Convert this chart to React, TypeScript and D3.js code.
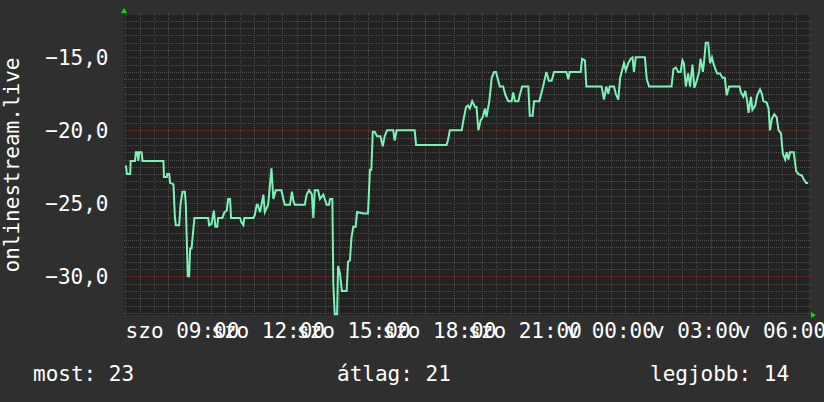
import React from 'react';
import * as d3 from 'd3';

const WIDTH = 824;
const HEIGHT = 402;

const seriesName = 'onlinestream.live';
const dayNames = ['v', 'h', 'k', 'sze', 'cs', 'p', 'szo'];
const yLabelTicks = [-30, -25, -20, -15];
const legendLabels = ['most', 'átlag', 'legjobb'];
const legendValues = [23, 21, 14];

// szombat 06:57 -> vasárnap 06:57
const startTime = new Date(2024, 2, 9, 6, 57);
const endTime = new Date(2024, 2, 10, 6, 57);

const times = [
  '07:01', '07:03', '07:10', '07:11', '07:20', '07:22', '07:25', '07:27', '07:29', '07:34',
  '07:36', '08:20', '08:21', '08:27', '08:28', '08:32', '08:34', '08:41', '08:44', '08:46',
  '08:53', '08:56', '09:00', '09:05', '09:07', '09:11', '09:14', '09:16', '09:19', '09:21',
  '09:25', '09:54', '09:56', '10:01', '10:06', '10:09', '10:13', '10:15', '10:24', '10:28',
  '10:33', '10:36', '10:40', '10:42', '11:01', '11:04', '11:08', '11:10', '11:29', '11:32',
  '11:36', '11:38', '11:43', '11:50', '11:53', '12:00', '12:07', '12:11', '12:16', '12:28',
  '12:32', '12:35', '12:46', '12:50', '12:53', '12:56', '13:17', '13:21', '13:26', '13:32',
  '13:35', '13:38', '13:45', '13:49', '13:56', '14:03', '14:08', '14:10', '14:15', '14:17',
  '14:20', '14:25', '14:27', '14:31', '14:35', '14:45', '14:48', '14:52', '14:55', '14:59',
  '15:04', '15:07', '15:20', '15:30', '15:34', '15:37', '15:40', '15:44', '15:49', '15:56',
  '16:01', '16:05', '16:10', '16:23', '16:26', '16:30', '17:08', '17:11', '18:15', '18:18',
  '18:22', '18:47', '18:50', '18:56', '19:00', '19:04', '19:09', '19:15', '19:18', '19:22',
  '19:27', '19:31', '19:36', '19:39', '19:45', '19:50', '19:55', '19:59', '20:03', '20:07',
  '20:14', '20:19', '20:25', '20:32', '20:35', '20:39', '20:46', '20:49', '20:54', '21:07',
  '21:10', '21:16', '21:19', '21:30', '21:35', '21:40', '21:45', '21:50', '21:56', '22:01',
  '22:27', '22:31', '22:34', '22:57', '23:00', '23:06', '23:09', '23:41', '23:46', '23:51',
  '23:55', '23:58', '00:07', '00:11', '00:16', '00:20', '00:24', '00:28', '00:32', '00:37',
  '00:42', '00:46', '00:49', '00:53', '01:12', '01:16', '01:21', '02:08', '02:12', '02:17',
  '02:22', '02:27', '02:31', '02:34', '02:38', '02:43', '02:47', '02:52', '02:56', '03:01',
  '03:06', '03:09', '03:14', '03:17', '03:20', '03:25', '03:29', '03:33', '03:36', '03:40',
  '03:44', '03:50', '03:55', '04:00', '04:04', '04:09', '04:31', '04:34', '04:39', '04:43',
  '04:47', '04:50', '04:55', '04:58', '05:04', '05:08', '05:14', '05:18', '05:21', '05:28',
  '05:32', '05:35', '05:39', '05:44', '05:49', '05:53', '05:58', '06:02', '06:07', '06:10',
  '06:14', '06:17', '06:25', '06:30', '06:35', '06:42', '06:45', '06:51', '06:55',
];

const values = [
  -22.4, -23.0, -23.0, -22.1, -22.1, -21.5, -21.5, -22.1, -21.5, -21.5,
  -22.1, -22.1, -23.2, -23.2, -23.0, -23.0, -23.6, -23.7, -26.0, -26.5,
  -26.5, -25.0, -24.2, -24.2, -25.1, -30.0, -30.0, -28.1, -28.1, -27.4,
  -26.0, -26.0, -26.5, -26.4, -25.5, -26.6, -26.6, -26.0, -26.0, -25.6,
  -25.5, -24.7, -24.7, -26.0, -26.0, -26.3, -26.5, -26.0, -26.0, -25.8,
  -25.1, -25.1, -25.6, -24.4, -25.6, -25.1, -22.6, -24.7, -24.1, -24.1,
  -24.7, -25.1, -25.1, -24.2, -24.8, -25.1, -25.1, -24.4, -24.1, -24.4,
  -26.0, -24.1, -24.1, -24.7, -24.4, -25.1, -25.1, -24.7, -24.7, -30.5,
  -32.6, -32.6, -29.3, -29.8, -31.0, -31.0, -29.0, -28.9, -27.4, -26.6,
  -26.6, -25.6, -25.7, -25.7, -22.7, -22.7, -20.1, -20.1, -20.4, -20.4,
  -21.1, -20.4, -20.0, -20.0, -20.7, -20.0, -20.0, -21.0, -21.0, -20.7,
  -20.0, -20.0, -19.4, -18.4, -18.3, -18.5, -18.0, -18.4, -18.4, -20.0,
  -19.3, -19.1, -18.5, -19.1, -18.0, -16.4, -16.0, -16.0, -16.5, -17.0,
  -17.0, -17.6, -18.0, -18.0, -17.4, -18.0, -18.0, -17.6, -17.0, -17.0,
  -19.0, -19.0, -18.0, -18.0, -17.4, -16.7, -16.0, -16.6, -16.6, -16.0,
  -16.0, -16.5, -16.0, -16.0, -15.1, -15.2, -17.0, -17.0, -17.9, -17.0,
  -17.5, -17.0, -17.0, -17.5, -17.9, -16.4, -15.9, -15.4, -15.9, -15.4,
  -15.1, -15.0, -16.0, -15.0, -15.0, -16.5, -17.0, -17.0, -15.8, -15.7,
  -16.0, -16.0, -15.2, -15.4, -17.0, -16.1, -17.0, -15.5, -17.1, -16.6,
  -16.0, -15.1, -16.0, -15.1, -14.0, -14.0, -15.4, -15.0, -15.4, -15.8,
  -16.1, -16.1, -16.4, -16.4, -17.6, -17.0, -17.0, -17.4, -17.7, -17.3,
  -18.0, -18.8, -17.7, -18.6, -18.3, -17.6, -17.2, -17.5, -18.0, -18.1,
  -18.5, -20.0, -19.2, -18.9, -19.1, -20.0, -20.2, -21.6, -22.0, -21.5,
  -22.0, -21.5, -21.5, -22.8, -23.0, -23.1, -23.3, -23.6, -23.6,
];

// HH:MM -> Date, átfordul éjfélnél
const parseTimes = (list: string[]) => {
  let day = 0;
  let prev = -1;
  return list.map((t) => {
    const [h, m] = t.split(':').map(Number);
    const mins = h * 60 + m;
    if (mins < prev) day += 1;
    prev = mins;
    return new Date(2024, 2, 9 + day, h, m);
  });
};

const huLocale = d3.formatLocale({
  decimal: ',',
  thousands: ' ',
  grouping: [3],
  currency: ['', ' Ft'],
});
const fmtY = huLocale.format('.1f');
const fmtHM = d3.timeFormat('%H:%M');

const App: React.FC = () => {
  const plot = { left: 124, right: 809, top: 15, bottom: 315 };
  const font = "'DejaVu Sans Mono', monospace";

  const x = d3.scaleTime().domain([startTime, endTime]).range([plot.left, plot.right]);
  const y = d3.scaleLinear().domain([-32.65, -12.1]).range([plot.bottom, plot.top]);

  const dates = parseTimes(times);
  const points: [Date, number][] = dates
    .slice(0, Math.min(dates.length, values.length))
    .map((d, i) => [d, values[i]]);

  const line = d3.line<[Date, number]>()
    .x((d) => x(d[0]))
    .y((d) => y(d[1]));

  const yGrid = d3.range(-65, -24).map((k) => k / 2);
  const yMinor = yGrid.filter((v) => v % 5 !== 0);
  const yMajor = yGrid.filter((v) => v % 5 === 0);

  const xMinor = d3.timeMinute.every(30)!.range(startTime, endTime)
    .filter((d) => d.getMinutes() !== 0);
  const xMajor = d3.timeHour.range(startTime, endTime);
  const xLabels = d3.timeHour.every(3)!.range(startTime, endTime);

  const minorColor = '#4f4f4f';
  const majorColor = '#6a3434';
  const ext = 2;

  return (
    <div style={{ position: 'absolute', left: 0, top: 0 }}>
      <svg width={WIDTH} height={HEIGHT} style={{ display: 'block' }}>
        <rect x={0} y={0} width={WIDTH} height={HEIGHT} fill="#2f2f2f" />
        <rect
          x={plot.left}
          y={plot.top}
          width={plot.right - plot.left}
          height={plot.bottom - plot.top}
          fill="#222222"
        />

        <g shapeRendering="crispEdges" strokeWidth={1} strokeDasharray="1 1">
          {yMinor.map((v) => (
            <line key={'ym' + v} x1={plot.left} x2={plot.right + ext}
              y1={Math.round(y(v)) + 0.5} y2={Math.round(y(v)) + 0.5} stroke={minorColor} />
          ))}
          {xMinor.map((d) => (
            <line key={'xm' + d.getTime()} y1={plot.top - ext} y2={plot.bottom + ext}
              x1={Math.round(x(d)) + 0.5} x2={Math.round(x(d)) + 0.5} stroke={minorColor} />
          ))}
          {yMajor.map((v) => (
            <line key={'yM' + v} x1={plot.left} x2={plot.right + ext}
              y1={Math.round(y(v)) + 0.5} y2={Math.round(y(v)) + 0.5} stroke={majorColor} />
          ))}
          {xMajor.map((d) => (
            <line key={'xM' + d.getTime()} y1={plot.top - ext} y2={plot.bottom + ext}
              x1={Math.round(x(d)) + 0.5} x2={Math.round(x(d)) + 0.5} stroke={majorColor} />
          ))}
        </g>

        <path d={line(points) ?? ''} fill="none" stroke="#7df2b6" strokeWidth={2}
          strokeLinejoin="miter" />

        {/* tengely nyilak */}
        <path d={`M${plot.left - 3},${plot.top - 2} L${plot.left + 3},${plot.top - 2} L${plot.left},${plot.top - 7} Z`}
          fill="#00dd00" />
        <path d={`M${plot.right + 2},${plot.bottom - 3} L${plot.right + 2},${plot.bottom + 3} L${plot.right + 7},${plot.bottom} Z`}
          fill="#00dd00" />

        <g fontFamily={font} fontSize={21} fill="#ffffff">
          {yLabelTicks.map((v) => (
            <text key={'yl' + v} x={108.5} y={y(v) + 7.5} textAnchor="end">{fmtY(v)}</text>
          ))}
          {xLabels.map((d) => (
            <text key={'xl' + d.getTime()} x={x(d)} y={338} textAnchor="middle">
              {dayNames[d.getDay()] + ' ' + fmtHM(d)}
            </text>
          ))}
          <text transform={`translate(18.5, ${(plot.top + plot.bottom) / 2}) rotate(-90)`}
            textAnchor="middle">{seriesName}</text>
          {legendLabels.map((lab, i) => (
            <text key={lab} x={[33, 337, 650][i]} y={381}>
              {lab + ': ' + legendValues[i]}
            </text>
          ))}
        </g>
      </svg>
    </div>
  );
};

export default App;
